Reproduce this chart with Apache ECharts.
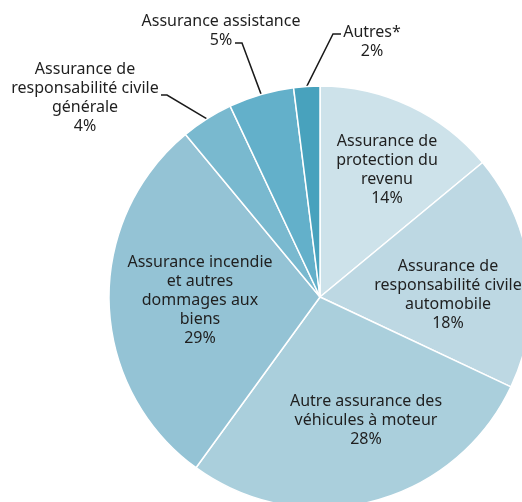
<!DOCTYPE html>
<html>
<head>
<meta charset="utf-8">
<script src="https://cdn.jsdelivr.net/npm/echarts@6/dist/echarts.min.js"></script>
<style>
  html, body { margin: 0; padding: 0; background: #fff; }
  #chart { width: 522px; height: 502px; }
</style>
</head>
<body>
<div id="chart"></div>
<script>
// categories, clockwise from the top
var categorias = [
    'Assurance de\nprotection du\nrevenu',
    'Assurance de\nresponsabilité civile\nautomobile',
    'Autre assurance des\nvéhicules à moteur',
    'Assurance incendie\net autres\ndommages aux\nbiens',
    'Assurance de\nresponsabilité civile\ngénérale',
    'Assurance assistance',
    'Autres*'
];
var parts = [14, 18, 28, 29, 4, 5, 2];
var couleurs = ['#cde2ea', '#bdd8e3', '#aacfdc', '#94c3d5', '#79b9cf', '#63b0ca', '#48a2bd'];

// label placement (not data)
var posLabels = [
    { x: 387, y: 170 },
    { x: 448, y: 295 },
    { x: 366, y: 420 },
    { x: 200, y: 300 },
    { x: 85, y: 98, kink: [167, 95], end: [161, 95] },
    { x: 221, y: 31, kink: [242, 43], end: [235, 43] },
    { x: 372, y: 42, kink: [333, 34], end: [341, 34] }
];
var dehors = [false, false, false, false, true, true, true];

var donnees = categorias.map(function(nom, i) {
    return {
        name: nom,
        value: parts[i],
        itemStyle: { color: couleurs[i] },
        label: { position: dehors[i] ? 'outside' : 'inside' },
        labelLine: { show: dehors[i] }
    };
});

var option = {
    animation: false,
    series: [{
        type: 'pie',
        center: [320, 297],
        radius: 211,
        startAngle: 90,
        clockwise: true,
        avoidLabelOverlap: false,
        itemStyle: { borderColor: '#fff', borderWidth: 1.5 },
        label: {
            show: true,
            formatter: '{b}\n{c}%',
            fontFamily: 'Noto Sans',
            fontSize: 16,
            lineHeight: 19,
            color: '#1f1f1f',
            align: 'center'
        },
        labelLine: {
            show: false,
            lineStyle: { color: '#1a1a1a', width: 1.5 }
        },
        labelLayout: function(p) {
            var pos = posLabels[p.dataIndex];
            var res = { x: pos.x, y: pos.y, align: 'center', verticalAlign: 'middle' };
            if (pos.kink && p.labelLinePoints) {
                res.labelLinePoints = [p.labelLinePoints[0], pos.kink, pos.end];
            }
            return res;
        },
        data: donnees
    }]
};

var myChart = echarts.init(document.getElementById('chart'));
myChart.setOption(option);
</script>
</body>
</html>
